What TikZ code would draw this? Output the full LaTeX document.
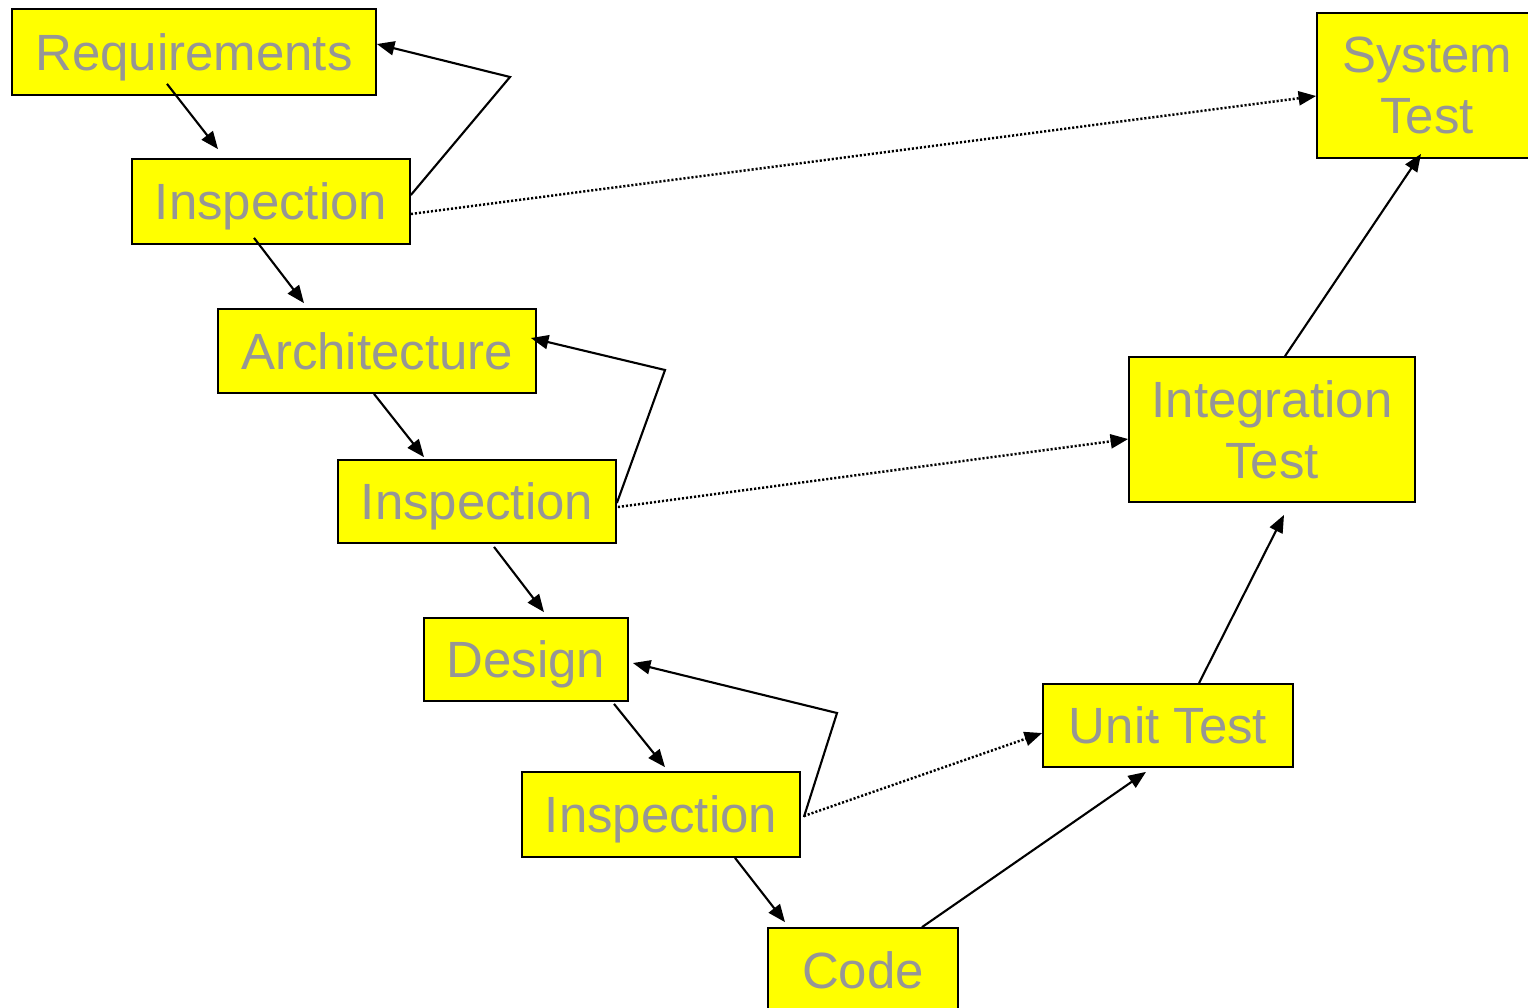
\documentclass[tikz,border=0pt]{standalone}
\usepackage{fontspec}
\setmainfont{Liberation Sans}
\usetikzlibrary{arrows.meta}
\definecolor{labelgray}{RGB}{150,150,150}
\definecolor{boxyellow}{RGB}{255,255,0}

\begin{document}
\begin{tikzpicture}[
  stagebox/.style={draw,fill=boxyellow,line width=0.5pt,text=labelgray,inner sep=0pt,
    align=center,font=\fontsize{14.5}{17.4}\selectfont},
  oneline/.style={stagebox,text height=10.4pt,text depth=0pt},
  flow/.style={line width=0.6pt,-{Triangle[length=5pt,width=4pt]}},
  feedback/.style={line width=0.6pt,-{Triangle[length=5pt,width=4pt]}},
  trace/.style={line width=0.7pt,dash pattern=on 0.6pt off 0.55pt,-{Triangle[length=5pt,width=4pt]}}
]
  \useasboundingbox (0,0) rectangle (15.28,-10.07);
  \clip (0,0) rectangle (15.28,-10.07);
  % stages down the left arm
  \node[oneline,minimum width=3.64cm,minimum height=0.86cm] (req) at (1.94,-0.52) {Requirements};
  \node[oneline,minimum width=2.78cm,minimum height=0.85cm] (insp1) at (2.71,-2.015) {Inspection};
  \node[oneline,minimum width=3.18cm,minimum height=0.84cm] (arch) at (3.77,-3.51) {Architecture};
  \node[oneline,minimum width=2.78cm,minimum height=0.83cm] (insp2) at (4.77,-5.015) {Inspection};
  \node[oneline,minimum width=2.04cm,minimum height=0.83cm] (design) at (5.26,-6.595) {Design};
  \node[oneline,minimum width=2.78cm,minimum height=0.85cm] (insp3) at (6.61,-8.145) {Inspection};
  \node[oneline,minimum width=1.90cm,minimum height=0.85cm] (code) at (8.63,-9.705) {Code};
  % stages up the right arm
  \node[oneline,minimum width=2.50cm,minimum height=0.83cm] (unit) at (11.68,-7.255) {Unit Test};
  \node[stagebox,minimum width=2.86cm,minimum height=1.45cm] (integ) at (12.72,-4.295) {Integration\\Test};
  \node[stagebox,minimum width=2.20cm,minimum height=1.45cm] (sys) at (14.27,-0.855) {System\\Test};
  % corners of the feedback loops
  \coordinate (fb1) at (5.10,-0.77);
  \coordinate (fb2) at (6.65,-3.70);
  \coordinate (fb3) at (8.37,-7.13);
  % down the V
  \draw[flow] ([xshift=-0.27cm,yshift=0.12cm]req.south) -- ([xshift=-0.53cm,yshift=0.09cm]insp1.north);
  \draw[flow] ([xshift=-0.17cm,yshift=0.07cm]insp1.south) -- ([xshift=-0.73cm,yshift=0.05cm]arch.north);
  \draw[flow] ([xshift=-0.03cm]arch.south) -- ([xshift=-0.53cm,yshift=0.02cm]insp2.north);
  \draw[flow] ([xshift=0.17cm,yshift=-0.03cm]insp2.south) -- ([xshift=0.18cm,yshift=0.05cm]design.north);
  \draw[flow] ([xshift=0.88cm,yshift=-0.02cm]design.south) -- ([xshift=0.04cm,yshift=0.04cm]insp3.north);
  \draw[flow] ([xshift=0.74cm]insp3.south) -- ([xshift=-0.78cm,yshift=0.05cm]code.north);
  % up the V
  \draw[flow] ([xshift=0.59cm]code.north) -- ([xshift=-0.22cm,yshift=-0.04cm]unit.south);
  \draw[flow] ([xshift=0.31cm]unit.north) -- ([xshift=0.12cm,yshift=-0.12cm]integ.south);
  \draw[flow] ([xshift=0.13cm]integ.north) -- ([xshift=-0.06cm,yshift=0.05cm]sys.south);
  % feedback from the inspections
  \draw[feedback] ([yshift=0.065cm]insp1.east) -- (fb1) -- ([yshift=0.08cm]req.east);
  \draw[feedback] ([yshift=-0.015cm]insp2.east) -- (fb2) -- ([xshift=-0.06cm,yshift=0.13cm]arch.east);
  \draw[feedback] ([xshift=0.03cm,yshift=-0.025cm]insp3.east) -- (fb3) -- ([xshift=0.04cm,yshift=-0.035cm]design.east);
  % inspections to the matching tests
  \draw[trace] ([yshift=-0.125cm]insp1.east) -- ([yshift=-0.105cm]sys.west);
  \draw[trace] ([xshift=0.01cm,yshift=-0.055cm]insp2.east) -- ([yshift=-0.095cm]integ.west);
  \draw[trace] ([xshift=0.03cm,yshift=-0.015cm]insp3.east) -- ([yshift=-0.075cm]unit.west);
\end{tikzpicture}
\end{document}
